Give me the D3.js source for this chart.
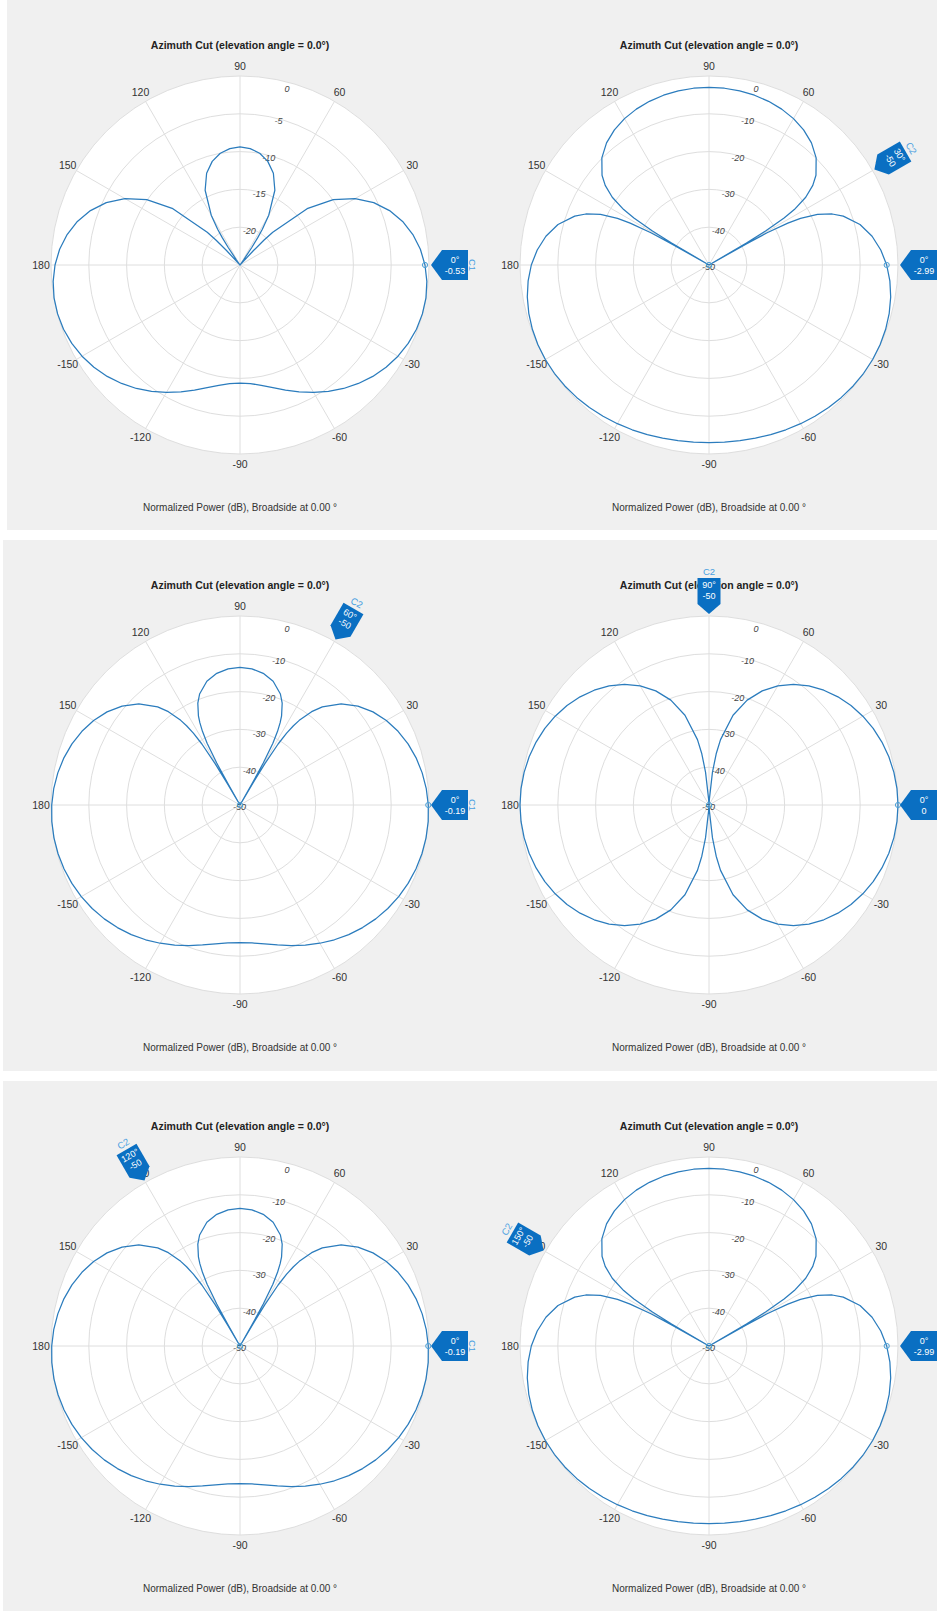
<!DOCTYPE html>
<html><head><meta charset="utf-8">
<script src="https://cdn.jsdelivr.net/npm/d3@7"></script>
<style>
body{margin:0;background:#fff}
svg{display:block}
text{font-family:"Liberation Sans",Arial,Helvetica,sans-serif}
</style>
</head><body>
<svg id="c" width="937" height="1611"></svg>
<script>
// ---------- data (azimuth in degrees, normalized power in dB) ----------
const angleTicks = [30,60,90,120,150,180,-150,-120,-90,-60,-30];
const magTicks25 = [0,-5,-10,-15,-20];
const magTicks50 = [0,-10,-20,-30,-40,-50];

const azP1 = [-180,-175,-170,-165,-160,-155,-150,-145,-140,-135,-130,-125,-120,-115,-110,-105,-100,-95,-90,-85,-80,-75,-70,-65,-60,-55,-50,-45,-40,-35,-30,-25,-20,-15,-10,-5,
  0,5,10,15,20,25,30,35,40,45,46,47,48,51,55,56,57,58,60,65,70,75,80,85,90,95,100,105,110,115,120,122,123,124,125,129,132,133,134,135,140,145,150,155,160,165,170,175];
const dbP1 = [-0.53,-0.19,-0.02,-0.02,-0.16,-0.45,-0.87,-1.41,-2.07,-2.84,-3.68,-4.60,-5.55,-6.50,-7.40,-8.20,-8.84,-9.25,-9.39,-9.25,-8.84,-8.20,-7.40,-6.50,-5.55,-4.60,-3.68,-2.84,-2.07,-1.41,-0.87,-0.45,-0.16,-0.02,-0.02,-0.19,
  -0.53,-1.05,-1.78,-2.73,-3.95,-5.48,-7.42,-9.94,-13.41,-18.87,-20.46,-22.38,-24.80,-25,-24.19,-22.25,-20.69,-19.42,-17.39,-14.09,-12.09,-10.81,-9.99,-9.54,-9.39,-9.54,-9.99,-10.81,-12.09,-14.09,-17.39,-19.42,-20.69,-22.25,-24.19,-25,-24.80,-22.38,-20.46,-18.87,-13.41,-9.94,-7.42,-5.48,-3.95,-2.73,-1.78,-1.05];

const azP2 = [-180,-175,-170,-165,-160,-155,-150,-145,-140,-135,-130,-125,-120,-115,-110,-105,-100,-95,-90,-85,-80,-75,-70,-65,-60,-55,-50,-45,-40,-35,-30,-25,-20,-15,-10,-5,
  0,5,10,15,20,22.5,25,27,28,29,29.5,30,30.5,31,32,33,35,37.5,40,45,50,55,60,65,70,75,80,85,90,95,100,105,110,115,120,125,130,135,140,142.5,145,147,148,149,149.5,150,150.5,151,152,153,155,157.5,160,165,170,175];
const dbP2 = [-2.99,-1.97,-1.19,-0.64,-0.27,-0.06,0,-0.06,-0.22,-0.47,-0.78,-1.14,-1.52,-1.90,-2.26,-2.57,-2.81,-2.96,-3.01,-2.96,-2.81,-2.57,-2.26,-1.90,-1.52,-1.14,-0.78,-0.47,-0.22,-0.06,0,-0.06,-0.27,-0.64,-1.19,-1.97,
  -2.99,-4.38,-6.19,-8.64,-12.20,-14.74,-18.33,-22.83,-26.38,-32.43,-38.51,-50,-38.51,-32.54,-26.58,-23.09,-18.76,-15.39,-13.06,-9.91,-7.83,-6.37,-5.29,-4.50,-3.92,-3.50,-3.22,-3.06,-3.01,-3.06,-3.22,-3.50,-3.92,-4.50,-5.29,-6.37,-7.83,-9.91,-13.06,-15.39,-18.76,-23.09,-26.58,-32.54,-38.51,-50,-38.51,-32.43,-26.38,-22.83,-18.33,-14.74,-12.20,-8.64,-6.19,-4.38];

const azP3 = [-180,-175,-170,-165,-160,-155,-150,-145,-140,-135,-130,-125,-120,-115,-110,-105,-100,-95,-90,-85,-80,-75,-70,-65,-60,-55,-50,-45,-40,-35,-30,-25,-20,-15,-10,-5,
  0,5,10,15,20,25,30,35,40,45,50,52.5,55,56,57,58,59,59.5,60,60.5,61,62,63,64,65,67.5,70,75,80,85,90,95,100,105,110,112.5,115,116,117,118,119,119.5,120,120.5,121,122,123,124,125,127.5,130,135,140,145,150,155,160,165,170,175];
const dbP3 = [-0.19,-0.02,-0.02,-0.17,-0.47,-0.93,-1.52,-2.26,-3.13,-4.13,-5.25,-6.47,-7.77,-9.12,-10.44,-11.67,-12.68,-13.36,-13.60,-13.36,-12.68,-11.67,-10.44,-9.12,-7.77,-6.47,-5.25,-4.13,-3.13,-2.26,-1.52,-0.93,-0.47,-0.17,-0.02,-0.02,
  -0.19,-0.53,-1.06,-1.77,-2.69,-3.86,-5.29,-7.06,-9.28,-12.15,-16.11,-18.87,-22.66,-24.72,-27.35,-30.97,-37.21,-43.35,-50,-43.35,-37.30,-31.47,-28.12,-25.77,-23.97,-20.84,-18.75,-16.12,-14.63,-13.85,-13.60,-13.85,-14.63,-16.12,-18.75,-20.84,-23.97,-25.77,-28.12,-31.47,-37.30,-43.35,-50,-43.35,-37.21,-30.97,-27.35,-24.72,-22.66,-18.87,-16.11,-12.15,-9.28,-7.06,-5.29,-3.86,-2.69,-1.77,-1.06,-0.53];

const azP4 = [-180,-175,-170,-165,-160,-155,-150,-145,-140,-135,-130,-125,-120,-115,-110,-105,-100,-98,-96,-94,-92,-90,-88,-86,-84,-82,-80,-75,-70,-65,-60,-55,-50,-45,-40,-35,-30,-25,-20,-15,-10,-5,
  0,5,10,15,20,25,30,35,40,45,50,55,60,65,70,75,80,82,84,86,88,90,92,94,96,98,100,105,110,115,120,125,130,135,140,145,150,155,160,165,170,175];
const dbP4 = [0,-0.08,-0.33,-0.74,-1.32,-2.08,-3.01,-4.14,-5.48,-7.05,-8.89,-11.05,-13.60,-16.68,-20.48,-25.43,-32.43,-36.32,-41.31,-48.31,-50,-50,-50,-48.31,-41.31,-36.32,-32.43,-25.43,-20.48,-16.68,-13.60,-11.05,-8.89,-7.05,-5.48,-4.14,-3.01,-2.08,-1.32,-0.74,-0.33,-0.08,
  0,-0.08,-0.33,-0.74,-1.32,-2.08,-3.01,-4.14,-5.48,-7.05,-8.89,-11.05,-13.60,-16.68,-20.48,-25.43,-32.43,-36.32,-41.31,-48.31,-50,-50,-50,-48.31,-41.31,-36.32,-32.43,-25.43,-20.48,-16.68,-13.60,-11.05,-8.89,-7.05,-5.48,-4.14,-3.01,-2.08,-1.32,-0.74,-0.33,-0.08];

const panelAz   = [azP1, azP2, azP3, azP4, azP3, azP2];
const panelDb   = [dbP1, dbP2, dbP3, dbP4, dbP3, dbP2];
const panelMin  = [-25, -50, -50, -50, -50, -50];
const panelC2   = [null, 30, 60, 90, 120, 150];
const titleText = "Azimuth Cut (elevation angle = 0.0°)";
const xlabelText = "Normalized Power (dB), Broadside at 0.00 °";

// ---------- layout ----------
const W = 937, H = 1611, R = 189;
const rowTops = [0, 540, 1081];
const rowHeights = [530, 531, 530];
const rowLeft = [7, 3, 3];
const colCx = [240, 709];
const colSplit = 476;
const rad = d => d * Math.PI / 180;
const lineColor = "#2b7cbd";
const tipFill = "#0a6fc2";
const tipLabel = "#4a9fe0";

const svg = d3.select("#c");
const defs = svg.append("defs");

for (let i = 0; i < 6; i++) {
  const row = Math.floor(i / 2), col = i % 2;
  const top = rowTops[row];
  const x0 = col === 0 ? rowLeft[row] : colSplit;
  const x1 = col === 0 ? colSplit : W;
  const cx = colCx[col], cy = top + 265;
  const min = panelMin[i];
  const ticks = min === -25 ? magTicks25 : magTicks50;
  const r = d3.scaleLinear().domain([min, 0]).range([0, R]).clamp(true);
  const data = panelAz[i].map((a, k) => [a, panelDb[i][k]]);

  defs.append("clipPath").attr("id", "clip" + i)
    .append("rect").attr("x", x0).attr("y", top).attr("width", x1 - x0).attr("height", rowHeights[row]);

  const g = svg.append("g").attr("clip-path", `url(#clip${i})`);
  g.append("rect").attr("x", x0).attr("y", top).attr("width", x1 - x0).attr("height", rowHeights[row]).attr("fill", "#f0f0f0");

  const p = g.append("g").attr("transform", `translate(${cx},${cy})`);
  p.append("circle").attr("r", R).attr("fill", "#fff");

  // rings
  p.selectAll("circle.ring").data(ticks.filter(t => t > min)).join("circle")
    .attr("class", "ring").attr("r", d => r(d)).attr("fill", "none")
    .attr("stroke", "#dedede").attr("stroke-width", 1);
  // spokes
  p.selectAll("line.spoke").data([0, 30, 60, 90, 120, 150, 180, -150, -120, -90, -60, -30]).join("line")
    .attr("class", "spoke").attr("x1", 0).attr("y1", 0)
    .attr("x2", d => R * Math.cos(rad(d))).attr("y2", d => -R * Math.sin(rad(d)))
    .attr("stroke", "#dedede").attr("stroke-width", 1);

  // angle labels
  p.selectAll("text.ang").data(angleTicks).join("text")
    .attr("class", "ang")
    .attr("x", d => (R + 10) * Math.cos(rad(d)))
    .attr("y", d => -(R + 10) * Math.sin(rad(d)))
    .attr("dy", "0.35em").attr("text-anchor", "middle")
    .attr("font-size", 10.5).attr("fill", "#333")
    .text(d => d);

  // magnitude labels along 75 degrees
  p.selectAll("text.mag").data(ticks).join("text")
    .attr("class", "mag")
    .attr("x", d => (r(d) - (d === 0 ? 7 : 2)) * Math.cos(rad(75)))
    .attr("y", d => -(r(d) - (d === 0 ? 7 : 2)) * Math.sin(rad(75)))
    .attr("dy", "0.35em").attr("text-anchor", "middle")
    .attr("font-size", 9).attr("font-style", "italic").attr("fill", "#444")
    .text(d => d);

  // title and axis label
  p.append("text").attr("x", 0).attr("y", -220).attr("dy", "0.35em")
    .attr("text-anchor", "middle").attr("font-size", 10.5).attr("font-weight", "bold")
    .attr("fill", "#222").text(titleText);
  p.append("text").attr("x", 0).attr("y", 242.5).attr("dy", "0.35em")
    .attr("text-anchor", "middle").attr("font-size", 10).attr("fill", "#333")
    .text(xlabelText);

  // pattern
  const line = d3.lineRadial()
    .angle(d => rad(90 - d[0]))
    .radius(d => r(d[1]))
    .curve(d3.curveLinearClosed);
  p.append("path").datum(data).attr("d", line)
    .attr("fill", "none").attr("stroke", lineColor).attr("stroke-width", 1.25)
    .attr("stroke-linejoin", "round");

  // C1 cursor at 0 degrees
  const v0 = data.find(d => d[0] === 0)[1];
  p.append("circle").attr("cx", r(v0)).attr("cy", 0).attr("r", 2.6)
    .attr("fill", "none").attr("stroke", "#4a9fd6").attr("stroke-width", 1);
  const t1 = p.append("g").attr("transform", `translate(${R + 2},0)`);
  t1.append("polygon").attr("points", "0,0 11,-15 37,-15 37,15 11,15").attr("fill", tipFill);
  t1.append("text").attr("x", 24).attr("y", -5.5).attr("dy", "0.35em").attr("text-anchor", "middle")
    .attr("font-size", 9).attr("fill", "#fff").text("0°");
  t1.append("text").attr("x", 24).attr("y", 5.5).attr("dy", "0.35em").attr("text-anchor", "middle")
    .attr("font-size", 9).attr("fill", "#fff").text(String(v0));
  t1.append("text").attr("transform", "translate(41,0) rotate(90)").attr("dy", "0.35em")
    .attr("text-anchor", "middle").attr("font-size", 9.5).attr("fill", tipLabel).text("C1");

  // C2 cursor
  const a2 = panelC2[i];
  if (a2 !== null) {
    const v2 = data.find(d => d[0] === a2)[1];
    p.append("circle").attr("cx", r(v2) * Math.cos(rad(a2))).attr("cy", -r(v2) * Math.sin(rad(a2)))
      .attr("r", 2.6).attr("fill", "none").attr("stroke", "#4a9fd6").attr("stroke-width", 1);
    const t2 = p.append("g")
      .attr("transform", `translate(${(R + 2) * Math.cos(rad(a2))},${-(R + 2) * Math.sin(rad(a2))}) rotate(${-a2})`);
    t2.append("polygon").attr("points", "0,0 10,-11.5 36,-11.5 36,11.5 10,11.5").attr("fill", tipFill);
    t2.append("text").attr("transform", "translate(29,0) rotate(90)").attr("dy", "0.35em")
      .attr("text-anchor", "middle").attr("font-size", 9).attr("fill", "#fff").text(a2 + "°");
    t2.append("text").attr("transform", "translate(18.5,0) rotate(90)").attr("dy", "0.35em")
      .attr("text-anchor", "middle").attr("font-size", 9).attr("fill", "#fff").text(String(v2));
    t2.append("text").attr("transform", "translate(42.5,0) rotate(90)").attr("dy", "0.35em")
      .attr("text-anchor", "middle").attr("font-size", 9.5).attr("fill", tipLabel).text("C2");
  }
}
</script>
</body></html>
